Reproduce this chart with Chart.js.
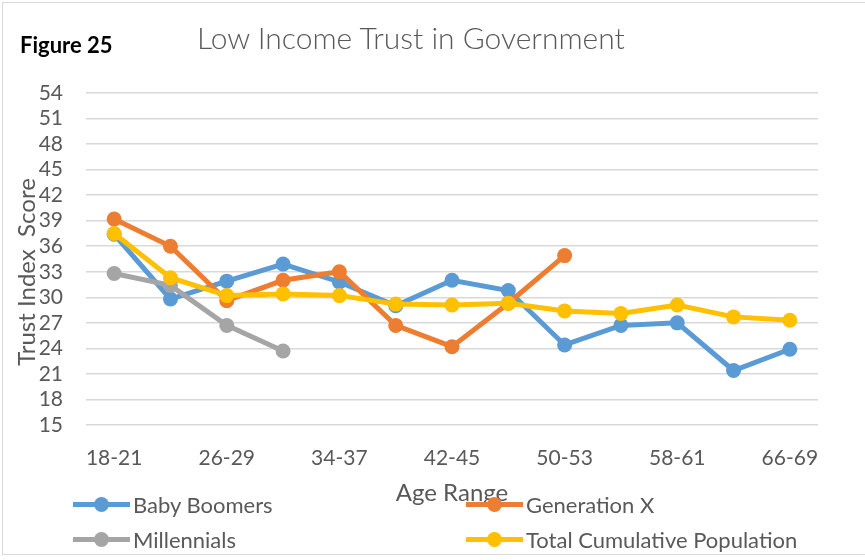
<!DOCTYPE html>
<html>
<head>
<meta charset="utf-8">
<script src="https://cdn.jsdelivr.net/npm/chart.js@4.4.1/dist/chart.umd.min.js"></script>
<style>
    body { margin: 0; background: #fff; }
    #wrap { position: relative; width: 865px; height: 560px; overflow: hidden; font-family: Lato, sans-serif; }
    #frame { position: absolute; left: 2px; top: 2px; width: 880px; height: 553px; border: 1.5px solid #d9d9d9; box-sizing: border-box; pointer-events: none; }
    #fig { position: absolute; left: 20px; top: 31px; font-weight: bold; font-size: 22px; color: #000; }
    #title { position: absolute; left: 197px; top: 19px; font-weight: 300; font-size: 30px; color: #595959; }
    #ytitle { position: absolute; left: 25px; top: 272px; transform: translate(-50%, -50%) rotate(-90deg); white-space: pre; font-size: 24px; color: #595959; }
    .leg { position: absolute; display: flex; align-items: center; font-size: 22px; color: #595959; }
    .mark { position: relative; width: 57px; height: 5px; margin-right: 3px; }
    .mark i { position: absolute; left: 21px; top: -5px; width: 15px; height: 15px; border-radius: 50%; }
</style>
</head>
<body>
<div id="wrap">
    <canvas id="chart" width="865" height="560"></canvas>
    <div id="frame"></div>
    <div id="fig">Figure 25</div>
    <div id="title">Low Income Trust in Government</div>
    <div id="ytitle">Trust Index  Score</div>
    <div id="legend"></div>
</div>
<script>
    const ageRanges = ['18-21', '22-25', '26-29', '30-33', '34-37', '38-41', '42-45', '46-49', '50-53', '54-57', '58-61', '62-65', '66-69'];
    const babyBoomers = [37.4, 29.8, 31.9, 33.9, 31.8, 29.0, 32.0, 30.8, 24.4, 26.7, 27.0, 21.4, 23.9];
    const generationX = [39.2, 36.0, 29.6, 32.0, 33.0, 26.7, 24.2, 29.3, 34.9, null, null, null, null];
    const millennials = [32.8, 31.4, 26.7, 23.7, null, null, null, null, null, null, null, null, null];
    const totalPopulation = [37.5, 32.3, 30.2, 30.4, 30.2, 29.2, 29.1, 29.3, 28.4, 28.1, 29.1, 27.7, 27.3];
    const yTicks = [15, 18, 21, 24, 27, 30, 33, 36, 39, 42, 45, 48, 51, 54];

    const series = [
        { label: 'Baby Boomers', data: babyBoomers, color: '#5b9bd5', order: 4, left: 73, top: 491 },
        { label: 'Generation X', data: generationX, color: '#ed7d31', order: 3, left: 466, top: 491 },
        { label: 'Millennials', data: millennials, color: '#a5a5a5', order: 2, left: 73, top: 526 },
        { label: 'Total Cumulative Population', data: totalPopulation, color: '#ffc000', order: 1, left: 466, top: 526 },
    ];

    const textColor = '#595959';

    new Chart(document.getElementById('chart'), {
        type: 'line',
        data: {
            labels: ageRanges,
            datasets: series.map(s => ({
                label: s.label,
                data: s.data,
                borderColor: s.color,
                backgroundColor: s.color,
                pointBackgroundColor: s.color,
                pointBorderWidth: 0,
                pointRadius: 7.5,
                borderWidth: 5,
                order: s.order,
                spanGaps: false,
            }))
        },
        options: {
            responsive: false,
            animation: false,
            layout: { padding: { top: 93, left: 10, right: 47, bottom: 45 } },
            plugins: {
                legend: { display: false },
                tooltip: { enabled: false },
            },
            scales: {
                x: {
                    offset: true,
                    grid: { display: false, drawTicks: false },
                    border: { display: false },
                    ticks: {
                        autoSkip: false,
                        maxRotation: 0,
                        padding: 21,
                        color: textColor,
                        font: { family: 'Lato', size: 21 },
                        callback: function (value, index) { return index % 2 === 0 ? ageRanges[index] : ''; },
                    },
                    title: {
                        display: true,
                        text: 'Age Range',
                        color: textColor,
                        font: { family: 'Lato', size: 24 },
                        padding: { top: 0, bottom: 7 },
                    },
                    afterFit: function (scale) { scale.height = 90; },
                },
                y: {
                    min: 15,
                    max: 54,
                    afterBuildTicks: function (scale) { scale.ticks = yTicks.map(v => ({ value: v })); },
                    grid: { color: '#d9d9d9', lineWidth: 1.5, drawTicks: false },
                    border: { display: false },
                    ticks: {
                        autoSkip: false,
                        padding: 23,
                        color: textColor,
                        font: { family: 'Lato', size: 21 },
                    },
                    afterFit: function (scale) { scale.width = 76; },
                },
            },
        },
    });

    const legend = document.getElementById('legend');
    series.forEach(s => {
        const item = document.createElement('div');
        item.className = 'leg';
        item.style.left = s.left + 'px';
        item.style.top = s.top + 'px';
        item.innerHTML = '<span class="mark" style="background:' + s.color + '"><i style="background:' + s.color + '"></i></span>' + s.label;
        legend.appendChild(item);
    });
</script>
</body>
</html>
